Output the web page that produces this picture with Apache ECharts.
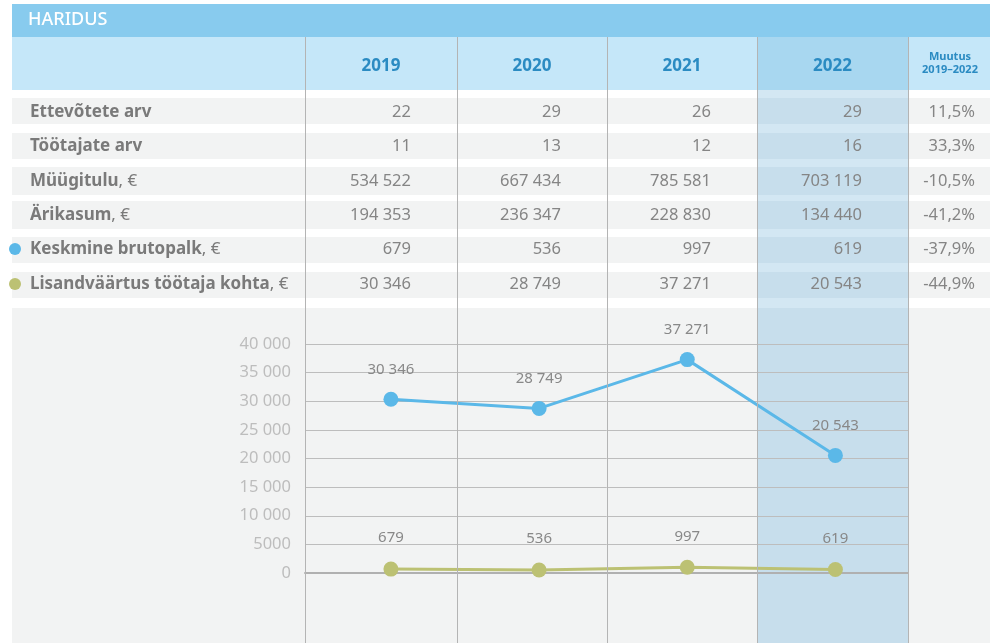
<!DOCTYPE html>
<html>
<head>
<meta charset="utf-8">
<script src="https://cdn.jsdelivr.net/npm/echarts@6/dist/echarts.min.js"></script>
<style>
  html, body { margin: 0; padding: 0; background: #fff; }
  #chart { width: 990px; height: 643px; }
</style>
</head>
<body>
<div id="chart"></div>
<script>
// andmed
const years = ['2019', '2020', '2021', '2022']
const rowLabels = ['Ettevõtete arv', 'Töötajate arv', 'Müügitulu', 'Ärikasum', 'Keskmine brutopalk', 'Lisandväärtus töötaja kohta']
const rowUnits = ['', '', ', €', ', €', ', €', ', €']
const ettevotted = [22, 29, 26, 29]
const tootajad = [11, 13, 12, 16]
const myygitulu = [534522, 667434, 785581, 703119]
const arikasum = [194353, 236347, 228830, 134440]
const brutopalk = [679, 536, 997, 619]
const lisandvaartus = [30346, 28749, 37271, 20543]
const muutus = ['11,5%', '33,3%', '-10,5%', '-41,2%', '-37,9%', '-44,9%']
const yTicks = [0, 5000, 10000, 15000, 20000, 25000, 30000, 35000, 40000]

const tableRows = [ettevotted, tootajad, myygitulu, arikasum, brutopalk, lisandvaartus]

const FONT = '"Noto Sans", sans-serif'
const BLUE = '#5bb8e8'
const OLIVE = '#bcc173'

function fmt(v) {
  if (v < 10000) return String(v)
  return String(v).replace(/\B(?=(\d{3})+(?!\d))/g, ' ')
}

// layout
const colX = [305, 457, 607, 757, 908]
const rowY = [112, 146, 181, 215, 249, 284]
const bands = [[98, 26], [133, 26], [167, 28], [201, 28], [237, 26], [272, 26], [308, 335]]

const g = []
// title bar
g.push({ type: 'rect', shape: { x: 12, y: 4, width: 978, height: 33 }, style: { fill: '#88cbee' }, z: -5, silent: true })
g.push({ type: 'text', style: { x: 28, y: 20, text: 'HARIDUS', fill: '#fff', font: '500 18px ' + FONT, verticalAlign: 'middle' }, z: 10 })
// header
g.push({ type: 'rect', shape: { x: 12, y: 37, width: 978, height: 53 }, style: { fill: '#c5e7f9' }, z: -5, silent: true })
g.push({ type: 'rect', shape: { x: 757, y: 37, width: 151, height: 53 }, style: { fill: '#a8d7f0' }, z: -4, silent: true })
// 2022 veerg
g.push({ type: 'rect', shape: { x: 757, y: 90, width: 151, height: 553 }, style: { fill: '#d3e7f3' }, z: -5, silent: true })
bands.forEach(b => {
  g.push({ type: 'rect', shape: { x: 12, y: b[0], width: 745, height: b[1] }, style: { fill: '#f2f3f3' }, z: -4, silent: true })
  g.push({ type: 'rect', shape: { x: 908, y: b[0], width: 82, height: b[1] }, style: { fill: '#f2f3f3' }, z: -4, silent: true })
  g.push({ type: 'rect', shape: { x: 757, y: b[0], width: 151, height: b[1] }, style: { fill: '#c7deec' }, z: -4, silent: true })
})
// vertical lines
colX.forEach(x => {
  g.push({ type: 'line', shape: { x1: x + 0.5, y1: 37, x2: x + 0.5, y2: 643 }, style: { stroke: '#b4b4b4', lineWidth: 1 }, z: 5, silent: true })
})
// header text
years.forEach((y, i) => {
  g.push({ type: 'text', style: { x: (colX[i] + colX[i + 1]) / 2, y: 66, text: y, fill: '#2b8bc2', font: 'bold 17px ' + FONT, align: 'center', verticalAlign: 'middle' }, z: 10 })
})
g.push({ type: 'text', style: { x: 950, y: 57, text: 'Muutus', fill: '#2b8bc2', font: 'bold 11px ' + FONT, align: 'center', verticalAlign: 'middle' }, z: 10 })
g.push({ type: 'text', style: { x: 950, y: 70, text: '2019–2022', fill: '#2b8bc2', font: 'bold 11px ' + FONT, align: 'center', verticalAlign: 'middle' }, z: 10 })
// rows
rowLabels.forEach((lab, r) => {
  g.push({
    type: 'text', z: 10,
    style: {
      x: 30, y: rowY[r], verticalAlign: 'middle',
      text: '{b|' + lab + '}{n|' + rowUnits[r] + '}',
      rich: {
        b: { font: 'bold 17px ' + FONT, fill: '#7a7a7a' },
        n: { font: '17px ' + FONT, fill: '#7a7a7a' }
      }
    }
  })
  tableRows[r].forEach((v, i) => {
    g.push({ type: 'text', style: { x: colX[i + 1] - 46, y: rowY[r], text: fmt(v), fill: '#858585', font: '16.5px ' + FONT, align: 'right', verticalAlign: 'middle' }, z: 10 })
  })
  g.push({ type: 'text', style: { x: 975, y: rowY[r], text: muutus[r], fill: '#858585', font: '16.5px ' + FONT, align: 'right', verticalAlign: 'middle' }, z: 10 })
})
// legend dots
g.push({ type: 'circle', shape: { cx: 15, cy: 249, r: 6 }, style: { fill: BLUE }, z: 10 })
g.push({ type: 'circle', shape: { cx: 15, cy: 284, r: 6 }, style: { fill: OLIVE }, z: 10 })

const chart = echarts.init(document.getElementById('chart'))
chart.setOption({
  animation: false,
  textStyle: { fontFamily: FONT },
  graphic: g,
  grid: { left: 305, right: 82, top: 344, bottom: 70 },
  xAxis: {
    type: 'value', min: -0.58, max: 3.49,
    axisLabel: { show: false }, axisTick: { show: false }, splitLine: { show: false },
    axisLine: { show: true, lineStyle: { color: '#b0b0b0', width: 2 } }
  },
  yAxis: {
    type: 'value', min: yTicks[0], max: yTicks[yTicks.length - 1], interval: 5000,
    axisLine: { show: false }, axisTick: { show: false },
    axisLabel: { formatter: fmt, color: '#bdbdbd', fontSize: 16.5, margin: 14 },
    splitLine: { lineStyle: { color: '#bdbdbd', width: 1 } }
  },
  series: [
    {
      type: 'line', data: lisandvaartus.map((v, i) => [i, v]),
      symbol: 'circle', symbolSize: 15,
      lineStyle: { color: BLUE, width: 3 }, itemStyle: { color: BLUE },
      label: { show: true, position: 'top', distance: 15, color: '#888', fontSize: 15, formatter: p => fmt(p.value[1]) }
    },
    {
      type: 'line', data: brutopalk.map((v, i) => [i, v]),
      symbol: 'circle', symbolSize: 15,
      lineStyle: { color: OLIVE, width: 3 }, itemStyle: { color: OLIVE },
      label: { show: true, position: 'top', distance: 16, color: '#888', fontSize: 15, formatter: p => fmt(p.value[1]) }
    }
  ]
})
</script>
</body>
</html>
